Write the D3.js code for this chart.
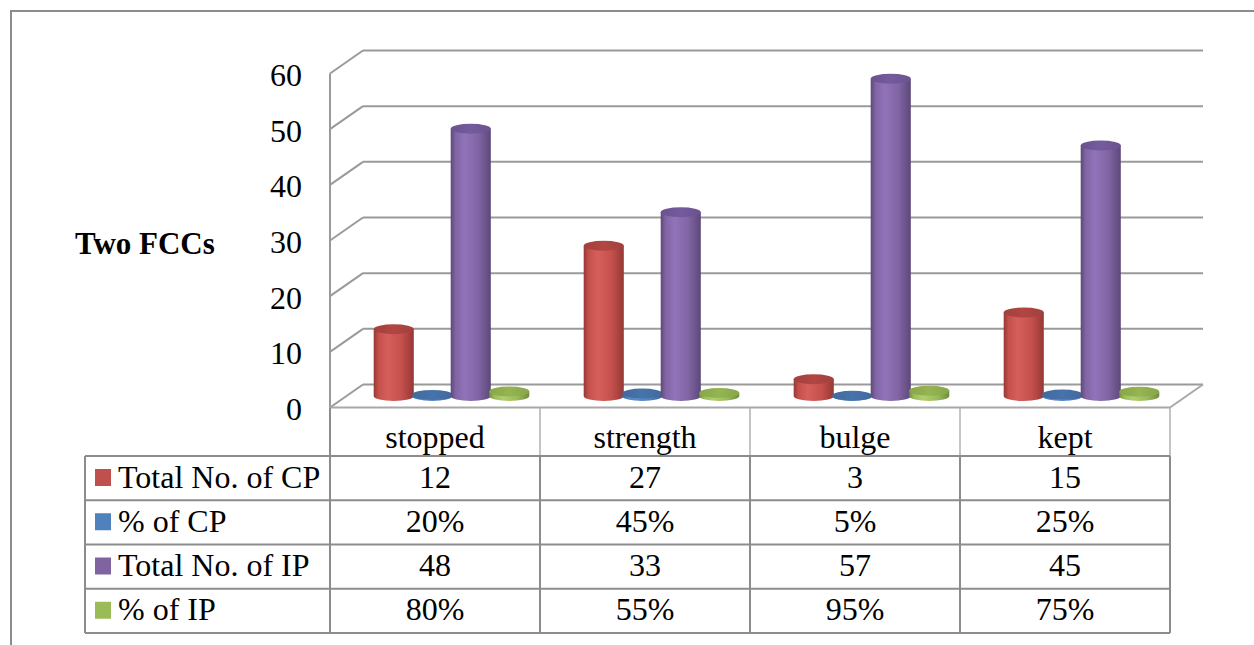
<!DOCTYPE html>
<html>
<head>
<meta charset="utf-8">
<script src="https://cdn.jsdelivr.net/npm/d3@7"></script>
<style>
  html, body { margin: 0; padding: 0; background: #fff; }
  svg { display: block; }
  text { font-family: "Liberation Serif", "Times New Roman", serif; fill: #000; }
</style>
</head>
<body>
<svg id="chart" width="1254" height="645"></svg>
<script>
// Chart data
const categories = ["stopped", "strength", "bulge", "kept"];
const seriesNames = ["Total No. of CP", "% of CP", "Total No. of IP", "% of IP"];
const totalCP = [12, 27, 3, 15];
const shareCP = [0.20, 0.45, 0.05, 0.25];
const totalIP = [48, 33, 57, 45];
const shareIP = [0.80, 0.55, 0.95, 0.75];
const yTicks = [0, 10, 20, 30, 40, 50, 60];
const axisTitle = "Two FCCs";

const seriesValues = [totalCP, shareCP, totalIP, shareIP];
const isPercent = [false, true, false, true];

// Palette: [side light, side dark, top]
const palette = [
  { light: "#d65f5b", mid: "#c4504c", dark: "#953835", top: "#a2403d", key: "#c0504d" },
  { light: "#5b8dcc", mid: "#4f81bd", dark: "#3a6397", top: "#41699d", key: "#4f81bd" },
  { light: "#9273bb", mid: "#8064a2", dark: "#5c4879", top: "#6a5390", key: "#8064a2" },
  { light: "#b0cf6c", mid: "#9bbb59", dark: "#728c3e", top: "#87a64a", key: "#9bbb59" }
];

const svg = d3.select("#chart");
const W = 1254, H = 645;

// Layout
const plotLeft = 330, plotRight = 1170;
const depthX = 33, depthY = -23;
const tableLeft = 85, headerBottom = 456, tableBottom = 633;
const rowH = (tableBottom - headerBottom) / seriesNames.length;
const fontSize = 32;

const y = d3.scaleLinear().domain([0, 60]).range([407.5, 73.5]);
const x = d3.scaleBand().domain(categories).range([plotLeft, plotRight]).padding(0);
const xs = d3.scaleBand().domain(d3.range(seriesNames.length)).range([28, 182]).padding(0);

const gridColor = "#9a9a9a";
const tableColor = "#8c8c8c";

// Outer frame
svg.append("path")
  .attr("d", `M11,${H} L11,11 L${W},11`)
  .attr("fill", "none").attr("stroke", "#8c8c8c").attr("stroke-width", 2);

// Gridlines: side wall diagonals + back wall horizontals
const grid = svg.append("g");
yTicks.forEach(t => {
  const yf = y(t);
  grid.append("line")
    .attr("x1", plotLeft).attr("y1", yf)
    .attr("x2", plotLeft + depthX).attr("y2", yf + depthY)
    .attr("stroke", gridColor).attr("stroke-width", 2);
  grid.append("line")
    .attr("x1", plotLeft + depthX).attr("y1", yf + depthY)
    .attr("x2", plotRight + depthX).attr("y2", yf + depthY)
    .attr("stroke", gridColor).attr("stroke-width", 2);
});
// Left wall front edge
grid.append("line")
  .attr("x1", plotLeft).attr("y1", y(60))
  .attr("x2", plotLeft).attr("y2", y(0))
  .attr("stroke", gridColor).attr("stroke-width", 2);
// Floor right edge
grid.append("line")
  .attr("x1", plotRight).attr("y1", y(0))
  .attr("x2", plotRight + depthX).attr("y2", y(0) + depthY)
  .attr("stroke", "#a8a8a8").attr("stroke-width", 2);

// Value axis labels
svg.append("g").selectAll("text").data(yTicks).join("text")
  .attr("x", 302).attr("y", d => y(d) + 12.5)
  .attr("text-anchor", "end")
  .attr("font-size", fontSize)
  .text(d => d);

// Axis title
svg.append("text")
  .attr("x", 75).attr("y", 254)
  .attr("font-size", 31).attr("font-weight", "bold")
  .text(axisTitle);

// Gradients for cylinder sides
const defs = svg.append("defs");
palette.forEach((p, i) => {
  const g = defs.append("linearGradient").attr("id", "side" + i)
    .attr("x1", "0%").attr("x2", "100%").attr("y1", "0%").attr("y2", "0%");
  g.append("stop").attr("offset", "0%").attr("stop-color", p.dark);
  g.append("stop").attr("offset", "12%").attr("stop-color", p.mid);
  g.append("stop").attr("offset", "35%").attr("stop-color", p.light);
  g.append("stop").attr("offset", "70%").attr("stop-color", p.mid);
  g.append("stop").attr("offset", "100%").attr("stop-color", p.dark);
  const t = defs.append("linearGradient").attr("id", "top" + i)
    .attr("x1", "0%").attr("x2", "100%").attr("y1", "0%").attr("y2", "0%");
  t.append("stop").attr("offset", "0%").attr("stop-color", p.top);
  t.append("stop").attr("offset", "50%").attr("stop-color", d3.color(p.top).brighter(0.25));
  t.append("stop").attr("offset", "100%").attr("stop-color", p.top);
});

// Cylinders (placed at mid depth of the floor)
const midDX = depthX / 2, midDY = depthY / 2;
const ry = 5;
const bars = [];
categories.forEach((c, ci) => {
  seriesValues.forEach((vals, si) => {
    bars.push({ cat: c, si, value: vals[ci] });
  });
});
const barG = svg.append("g");
bars.forEach(b => {
  const r = xs.bandwidth() / 2 + 0.8;
  const cx = x(b.cat) + xs(b.si) + xs.bandwidth() / 2 + midDX;
  const yb = y(0) + midDY;
  const yt = y(b.value) + midDY;
  barG.append("path")
    .attr("d", `M${cx - r},${yt} L${cx - r},${yb} A${r},${ry} 0 0 0 ${cx + r},${yb} L${cx + r},${yt} Z`)
    .attr("fill", `url(#side${b.si})`);
  barG.append("ellipse")
    .attr("cx", cx).attr("cy", yt).attr("rx", r).attr("ry", ry)
    .attr("fill", `url(#top${b.si})`);
});

// Category header row
const header = svg.append("g");
header.append("line")
  .attr("x1", plotLeft).attr("x2", plotRight)
  .attr("y1", y(0)).attr("y2", y(0))
  .attr("stroke", "#a8a8a8").attr("stroke-width", 2);
categories.forEach(c => {
  header.append("text")
    .attr("x", x(c) + x.bandwidth() / 2).attr("y", 448)
    .attr("text-anchor", "middle").attr("font-size", fontSize)
    .text(c);
});
d3.range(categories.length + 1).forEach(i => {
  const xx = plotLeft + i * x.bandwidth();
  header.append("line")
    .attr("x1", xx).attr("x2", xx)
    .attr("y1", y(0)).attr("y2", headerBottom)
    .attr("stroke", "#b0b0b0").attr("stroke-width", 1.5);
});

// Data table
const table = svg.append("g");
seriesNames.forEach((name, si) => {
  const top = headerBottom + si * rowH;
  table.append("rect")
    .attr("x", 95).attr("y", top + 13).attr("width", 16).attr("height", 17)
    .attr("fill", palette[si].key);
  table.append("text")
    .attr("x", 118).attr("y", top + 31.5)
    .attr("font-size", fontSize)
    .text(name);
  categories.forEach((c, ci) => {
    const v = seriesValues[si][ci];
    table.append("text")
      .attr("x", x(c) + x.bandwidth() / 2).attr("y", top + 31.5)
      .attr("text-anchor", "middle").attr("font-size", fontSize)
      .text(isPercent[si] ? d3.format(".0%")(v) : v);
  });
});
d3.range(seriesNames.length + 1).forEach(i => {
  const yy = headerBottom + i * rowH;
  table.append("line")
    .attr("x1", tableLeft).attr("x2", plotRight)
    .attr("y1", yy).attr("y2", yy)
    .attr("stroke", tableColor).attr("stroke-width", 2);
});
[tableLeft].concat(d3.range(categories.length + 1).map(i => plotLeft + i * x.bandwidth()))
  .forEach(xx => {
    table.append("line")
      .attr("x1", xx).attr("x2", xx)
      .attr("y1", xx === tableLeft ? headerBottom : (xx === plotLeft ? y(0) : headerBottom))
      .attr("y2", tableBottom)
      .attr("stroke", tableColor).attr("stroke-width", 2);
  });
</script>
</body>
</html>
